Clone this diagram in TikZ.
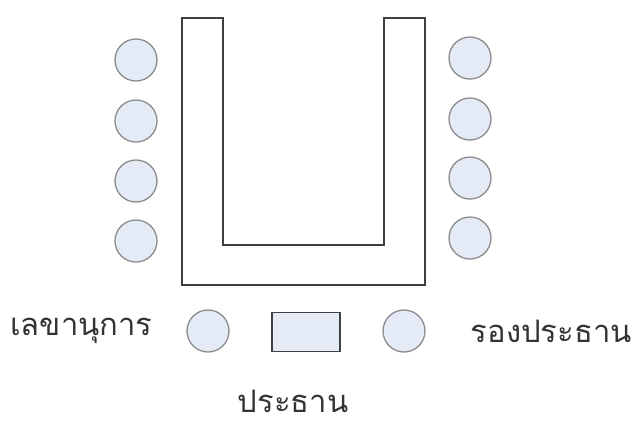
\documentclass[tikz,border=0pt]{standalone}
\usepackage{fontspec}
\newfontfamily\thaifont[Script=Thai]{Loma}
\definecolor{seatfill}{HTML}{E4EBF7}
\definecolor{seatline}{HTML}{8C8C8C}
\definecolor{tableline}{HTML}{404040}
\begin{document}
\begin{tikzpicture}[x=1pt,y=-1pt,
  seat/.style={draw=seatline,fill=seatfill,line width=1.3pt,circle,minimum size=42pt,inner sep=0pt},
  lbl/.style={font=\thaifont\fontsize{31}{36}\selectfont,text=black!80,inner sep=0pt}]
\useasboundingbox (0,0) rectangle (638,426);
% U table
\draw[tableline,line width=1.8pt,fill=white] (182,18) -- (223,18) -- (223,245) -- (384,245) -- (384,18) -- (425,18) -- (425,285) -- (182,285) -- cycle;
% left seats
\node[seat] (l1) at (136,60) {};
\node[seat] (l2) at (136,121) {};
\node[seat] (l3) at (136,181) {};
\node[seat] (l4) at (136,241) {};
% right seats
\node[seat] (r1) at (470,58) {};
\node[seat] (r2) at (470,119) {};
\node[seat] (r3) at (470,178) {};
\node[seat] (r4) at (470,238) {};
% bottom
\node[seat] (sec) at (208,331) {};
\node[seat] (vice) at (404,331) {};
\node[draw=tableline,fill=seatfill,line width=1.8pt,minimum width=68pt,minimum height=39pt,inner sep=0pt] (chair) at (306,332) {};
\node[lbl,anchor=west] (tsec) at (10,331) {เลขานุการ};
\node[lbl,anchor=east] (tvice) at (632,331) {รองประธาน};
\node[lbl] (tchair) at (293,401) {ประธาน};
\end{tikzpicture}
\end{document}
